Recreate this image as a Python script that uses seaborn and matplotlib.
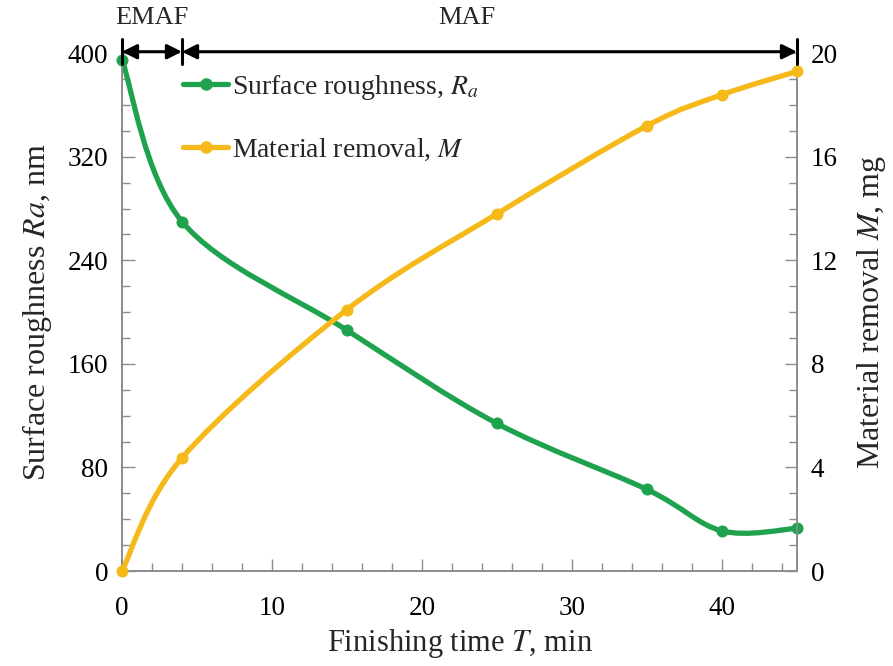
import matplotlib

matplotlib.use("Agg")

import matplotlib.pyplot as plt
import seaborn as sns
import pandas as pd
from matplotlib.lines import Line2D
from matplotlib.path import Path
from matplotlib.patches import PathPatch
from matplotlib.ticker import MultipleLocator
import matplotlib.transforms as mtransforms

# data
time_min = [0, 4, 15, 25, 35, 40, 45]
roughness_nm = [395, 270, 186, 114, 63, 31, 33]
removal_mg = [0, 4.37, 10.1, 13.8, 17.2, 18.4, 19.3]

GREEN = "#1FA24E"
YELLOW = "#F5B91A"
SPINE = "#8C8C8C"


def smooth_path(xs, ys):
    # Excel-like smoothed line: cubic bezier through the points (Catmull-Rom control points)
    pts = list(zip(xs, ys))
    n = len(pts)
    verts = [pts[0]]
    codes = [Path.MOVETO]
    for i in range(n - 1):
        p0 = pts[max(i - 1, 0)]
        p1 = pts[i]
        p2 = pts[i + 1]
        p3 = pts[min(i + 2, n - 1)]
        c1 = (p1[0] + (p2[0] - p0[0]) / 6, p1[1] + (p2[1] - p0[1]) / 6)
        c2 = (p2[0] - (p3[0] - p1[0]) / 6, p2[1] - (p3[1] - p1[1]) / 6)
        verts += [c1, c2, p2]
        codes += [Path.CURVE4] * 3
    return Path(verts, codes)


def main():
    sns.set_style("white")
    plt.rcParams["font.family"] = ["Liberation Serif", "DejaVu Serif"]
    plt.rcParams["mathtext.fontset"] = "stix"

    df = pd.DataFrame({"T": time_min, "Ra": roughness_nm, "M": removal_mg})

    fig = plt.figure(figsize=(8.93, 6.66), dpi=100)
    ax = fig.add_axes([0.1366, 0.1426, 0.7559, 0.7774])
    ax2 = ax.twinx()

    lw = 3.8
    ax.add_patch(PathPatch(smooth_path(df["T"], df["Ra"]), facecolor="none",
                           edgecolor=GREEN, lw=lw, capstyle="round", zorder=3))
    sns.scatterplot(data=df, x="T", y="Ra", color=GREEN, s=75, edgecolor=GREEN,
                    linewidth=0, ax=ax, zorder=4, legend=False, clip_on=False)
    ax2.add_patch(PathPatch(smooth_path(df["T"], df["M"]), facecolor="none",
                            edgecolor=YELLOW, lw=lw, capstyle="round", zorder=3))
    sns.scatterplot(data=df, x="T", y="M", color=YELLOW, s=75, edgecolor=YELLOW,
                    linewidth=0, ax=ax2, zorder=4, legend=False, clip_on=False)

    ax.set_xlim(0, 45)
    ax.set_ylim(0, 400)
    ax2.set_ylim(0, 20)

    ax.xaxis.set_major_locator(MultipleLocator(10))
    ax.xaxis.set_minor_locator(MultipleLocator(2))
    ax.yaxis.set_major_locator(MultipleLocator(80))
    ax.yaxis.set_minor_locator(MultipleLocator(20))
    ax2.yaxis.set_major_locator(MultipleLocator(4))
    ax2.yaxis.set_minor_locator(MultipleLocator(1))

    for a in (ax, ax2):
        a.tick_params(which="both", direction="in", color=SPINE, width=1,
                      labelsize=19.5, labelcolor="black", pad=10)
        a.tick_params(which="major", length=9)
        a.tick_params(which="minor", length=6)
        for side, sp in a.spines.items():
            sp.set_color(SPINE)
            sp.set_linewidth(1.2)
        a.spines["top"].set_visible(False)
    ax.tick_params(axis="y", which="both", left=True, right=False)
    ax.tick_params(axis="x", which="both", bottom=True, top=False, pad=18)
    ax2.tick_params(axis="y", which="both", right=True, left=False)

    ax.set_xlabel("Finishing time $T$, min", fontsize=22, labelpad=4)
    ax.set_ylabel("Surface roughness $Ra$, nm", fontsize=23, labelpad=10)
    ax2.set_ylabel("Material removal $M$, mg", fontsize=23, labelpad=12)

    # EMAF / MAF stage arrows along the top edge
    trans = mtransforms.blended_transform_factory(ax2.transData, ax2.transAxes)
    arrow = dict(arrowstyle="<|-|>", color="black", lw=2.2, mutation_scale=22,
                 shrinkA=0, shrinkB=0)
    ax2.annotate("", xy=(0, 1.003), xytext=(4, 1.003), xycoords=trans,
                 textcoords=trans, arrowprops=arrow, annotation_clip=False)
    ax2.annotate("", xy=(4, 1.003), xytext=(45, 1.003), xycoords=trans,
                 textcoords=trans, arrowprops=arrow, annotation_clip=False)
    for xb in (0, 4, 45):
        ax2.plot([xb, xb], [0.98, 1.028], transform=trans, color="black",
                 lw=2.2, clip_on=False, zorder=5)
    ax2.text(2, 1.047, "EMAF", transform=trans, ha="center", va="bottom", fontsize=19)
    ax2.text(23, 1.047, "MAF", transform=trans, ha="center", va="bottom", fontsize=19)

    handles = [
        Line2D([], [], color=GREEN, lw=lw, marker="o", markersize=8, markevery=[1],
               label="Surface roughness, $R_a$"),
        Line2D([], [], color=YELLOW, lw=lw, marker="o", markersize=8, markevery=[1],
               label="Material removal, $M$"),
    ]
    ax2.legend(handles=handles, loc="upper left", bbox_to_anchor=(0.074, 0.983),
               frameon=False, fontsize=20, handlelength=1.62, handletextpad=0.15,
               labelspacing=1.25, borderaxespad=0)

    fig.savefig("out.png", dpi=100)
    plt.close(fig)


if __name__ == "__main__":
    main()
